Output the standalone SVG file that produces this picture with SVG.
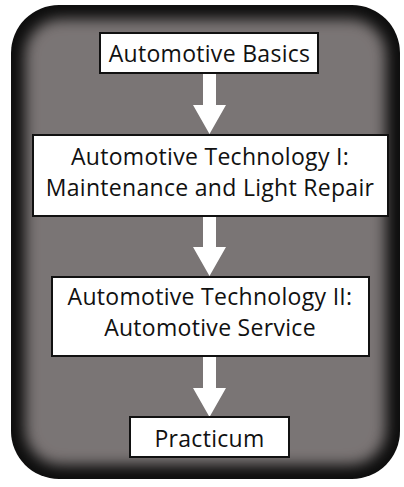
<svg xmlns="http://www.w3.org/2000/svg" width="404" height="487" viewBox="0 0 404 487">
  <style>
    .box { fill: #ffffff; stroke: #111111; stroke-width: 2; }
    .label { font-family: "Open Sans", "Liberation Sans", Arial, sans-serif; font-size: 23px; letter-spacing: 0.3px; fill: #111111; text-anchor: middle; }
    .arrow { fill: #ffffff; }
  </style>
  <defs>
    <clipPath id="panelClip">
      <rect x="11" y="5" width="389" height="474" rx="48" ry="48"/>
    </clipPath>
    <filter id="soft" x="-20%" y="-20%" width="140%" height="140%">
      <feGaussianBlur stdDeviation="7"/>
    </filter>
  </defs>

  <!-- background panel with dark inner edge -->
  <g id="panel">
    <rect x="11" y="5" width="389" height="474" rx="48" ry="48" fill="#0d0d0d"/>
    <g clip-path="url(#panelClip)">
      <rect x="25" y="19" width="361" height="446" rx="36" ry="36" fill="#7a7574" filter="url(#soft)"/>
    </g>
  </g>

  <!-- connectors -->
  <g id="connectors">
    <polygon class="arrow" points="203,73 216,73 216,105 226,105 209.5,134 193,105 203,105"/>
    <polygon class="arrow" points="203,216 216,216 216,247 226,247 209.5,276 193,247 203,247"/>
    <polygon class="arrow" points="203,356 216,356 216,388 226,388 209.5,417 193,388 203,388"/>
  </g>

  <g id="node-basics">
    <rect class="box" x="100" y="33" width="218" height="40"/>
    <text class="label" x="209.5" y="62">Automotive Basics</text>
  </g>

  <g id="node-tech1">
    <rect class="box" x="33" y="135" width="355" height="81"/>
    <text class="label" x="210" y="165">Automotive Technology I:</text>
    <text class="label" x="210" y="196">Maintenance and Light Repair</text>
  </g>

  <g id="node-tech2">
    <rect class="box" x="52" y="277" width="317" height="79"/>
    <text class="label" x="210" y="305">Automotive Technology II:</text>
    <text class="label" x="210" y="336">Automotive Service</text>
  </g>

  <g id="node-practicum">
    <rect class="box" x="130" y="417" width="159" height="40"/>
    <text class="label" x="209.5" y="447">Practicum</text>
  </g>
</svg>
